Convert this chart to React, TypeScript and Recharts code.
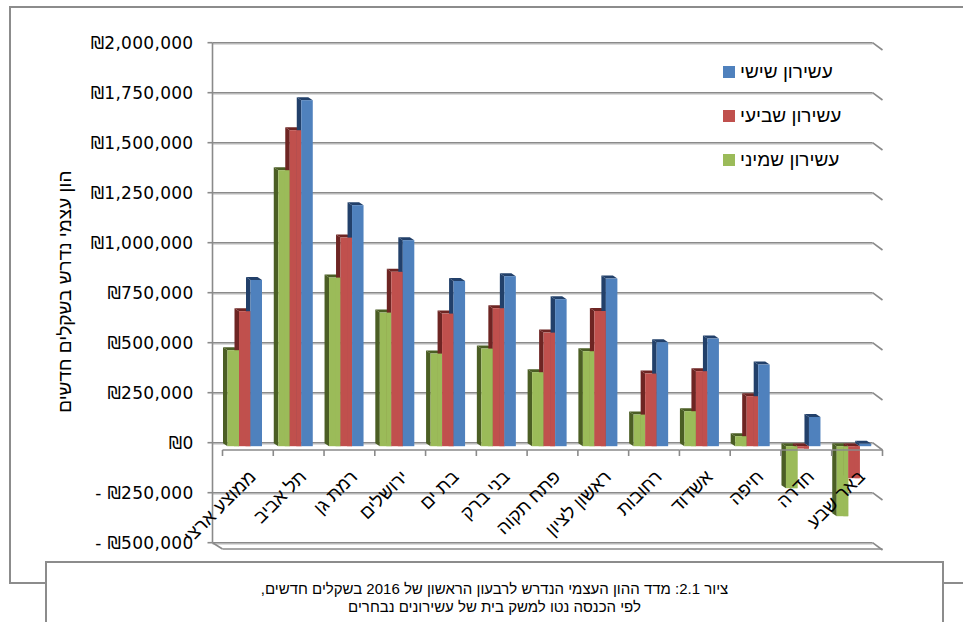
import React from 'react';
import { BarChart, Bar, XAxis, YAxis, CartesianGrid, Legend } from 'recharts';

// ---------- data ----------
const CATEGORIES = [
  'ממוצע ארצי',
  'תל אביב',
  'רמת גן',
  'ירושלים',
  'בת ים',
  'בני ברק',
  'פתח תקוה',
  'ראשון לציון',
  'רחובות',
  'אשדוד',
  'חיפה',
  'חדרה',
  'באר שבע',
];
const DECILE_8 = [480000, 1380000, 843000, 668000, 463000, 488000, 370000, 475000, 158000, 175000, 50000, -210000, -350000];
const DECILE_7 = [675000, 1580000, 1043000, 872000, 663000, 690000, 568000, 676000, 363000, 375000, 250000, -12000, -160000];
const DECILE_6 = [831000, 1730000, 1205000, 1030000, 826000, 850000, 735000, 838000, 520000, 538000, 408000, 146000, 12000];
const SERIES_NAMES = ['עשירון שמיני', 'עשירון שביעי', 'עשירון שישי'];
const LEGEND_ORDER = ['d6', 'd7', 'd8'];
const Y_TICKS = [-500000, -250000, 0, 250000, 500000, 750000, 1000000, 1250000, 1500000, 1750000, 2000000];
const Y_TITLE = 'הון עצמי נדרש בשקלים חדשים';
const CAPTION_LINE_1 = 'ציור 2.1: מדד ההון העצמי הנדרש לרבעון הראשון של 2016 בשקלים חדשים,';
const CAPTION_LINE_2 = 'לפי הכנסה נטו למשק בית של עשירונים נבחרים';

const data = CATEGORIES.map((c, i) => ({ city: c, d8: DECILE_8[i], d7: DECILE_7[i], d6: DECILE_6[i] }));

// ---------- style / layout ----------
const W = 963;
const H = 622;
const Y_MIN = -500000;
const Y_MAX = 2000000;
const PLOT_LEFT = 212.5;
const PLOT_TOP = 42.7;
const PLOT_W = 660;
const PLOT_H = 500;
const Y_AXIS_W = 200;
const X_AXIS_H = 30;
const DEPTH_X = 10;
const DEPTH_Y = 7.3;
const BAR_DX = 7;
const BAR_DY = 3.5;
const SIDE_X = 4.5;
const SIDE_Y = 3;
const ZERO_Y = PLOT_TOP + (PLOT_H * Y_MAX) / (Y_MAX - Y_MIN);
const GRID = '#8a8a8a';
const GRID_SHADOW = '#d0d0d0';
const HEB_FONT = '"Liberation Sans", Arial, sans-serif';
const NUM_FONT = '"DejaVu Sans", Verdana, sans-serif';

const GREEN = '#9BBB59';
const GREEN_DARK = '#4b5e24';
const RED = '#C0504D';
const RED_DARK = '#6e2523';
const BLUE = '#4F81BD';
const BLUE_DARK = '#22406a';

const fmt = (v: number) => {
  const s = Math.abs(v).toLocaleString('en-US');
  return v < 0 ? `- ₪${s}` : `₪${s}`;
};

function make3DShape(fill: string, dark: string, neighborKey: string | null, neighborFill: string | null) {
  return (props: any) => {
    const { x, y, width, height, payload, background } = props;
    if (x == null || y == null || width == null || height == null) return <g />;
    const top = Math.min(y, y + height);
    const h = Math.abs(height);
    const fx = x + BAR_DX;
    const fy = top + BAR_DY;
    const side = `${fx},${fy} ${fx - SIDE_X},${fy - SIDE_Y} ${fx - SIDE_X},${fy + h - SIDE_Y} ${fx},${fy + h}`;
    const cap = `${fx},${fy} ${fx + width},${fy} ${fx + width - SIDE_X},${fy - SIDE_Y} ${fx - SIDE_X},${fy - SIDE_Y}`;
    let strip: React.ReactNode = null;
    if (neighborKey && neighborFill && payload) {
      const bgY = background && background.y != null ? background.y : PLOT_TOP;
      const bgH = background && background.height ? background.height : PLOT_H;
      const yOf = (v: number) => bgY + ((Y_MAX - v) / (Y_MAX - Y_MIN)) * bgH;
      const a = yOf(payload[neighborKey]);
      const b = yOf(0);
      strip = (
        <rect x={fx - SIDE_X - 0.5} y={Math.min(a, b) + BAR_DY} width={SIDE_X + 0.5} height={Math.abs(a - b)} fill={neighborFill} />
      );
    }
    return (
      <g>
        <polygon points={side} fill={dark} />
        <polygon points={cap} fill={dark} />
        {strip}
        <rect x={fx} y={fy} width={width} height={h} fill={fill} />
      </g>
    );
  };
}

const GridLine = (p: any) => {
  const { x1, x2, y1 } = p;
  const isFloor = Math.abs(y1 - (PLOT_TOP + PLOT_H)) < 1;
  return (
    <g>
      <line x1={x1} x2={x2} y1={y1 + 1.4} y2={y1 + 1.4} stroke={GRID_SHADOW} strokeWidth={1.2} />
      <line x1={x1} x2={x2} y1={y1} y2={y1} stroke={GRID} strokeWidth={1.6} />
      <line x1={x2} y1={y1} x2={x2 + DEPTH_X} y2={y1 + DEPTH_Y} stroke={GRID} strokeWidth={1.6} />
      {isFloor && (
        <g>
          <line x1={x1} y1={y1} x2={x1 + DEPTH_X} y2={y1 + DEPTH_Y - 1} stroke={GRID} strokeWidth={1.6} />
          <line x1={x1 + DEPTH_X} x2={x2 + DEPTH_X} y1={y1 + DEPTH_Y - 1} y2={y1 + DEPTH_Y - 1} stroke={GRID} strokeWidth={1.6} />
        </g>
      )}
    </g>
  );
};

const CategoryTick = (p: any) => {
  const { x, payload, index } = p;
  const half = payload && payload.offset ? payload.offset : PLOT_W / CATEGORIES.length / 2;
  const cx = x + DEPTH_X;
  const y0 = ZERO_Y + DEPTH_Y;
  const ax = cx + 9;
  const ay = y0 + 28;
  return (
    <g>
      <line x1={cx - half} x2={cx + half} y1={y0} y2={y0} stroke={GRID} strokeWidth={1.6} />
      <line x1={cx - half} x2={cx - half} y1={y0} y2={y0 + 6} stroke={GRID} strokeWidth={1.6} />
      {index === CATEGORIES.length - 1 && (
        <line x1={cx + half} x2={cx + half} y1={y0} y2={y0 + 6} stroke={GRID} strokeWidth={1.6} />
      )}
      <text
        x={ax}
        y={ay}
        textAnchor="end"
        transform={`rotate(-45, ${ax}, ${ay})`}
        fontFamily={HEB_FONT}
        fontSize={18.5}
        fill="#000"
      >
        {payload.value}
      </text>
    </g>
  );
};

const AxisTitle = (p: any) => {
  const vb = p.viewBox || { x: 12.5, y: PLOT_TOP, width: Y_AXIS_W, height: PLOT_H };
  const tx = vb.x + 52;
  const ty = vb.y + vb.height / 2 - 1;
  return (
    <text
      x={tx}
      y={ty}
      textAnchor="middle"
      dominantBaseline="central"
      transform={`rotate(-90, ${tx}, ${ty})`}
      fontFamily={HEB_FONT}
      fontSize={19}
      fill="#000"
    >
      {Y_TITLE}
    </text>
  );
};

const LegendContent = (props: any) => {
  const payload = props.payload || [];
  const items = LEGEND_ORDER.map((k) => payload.find((it: any) => it.dataKey === k)).filter(Boolean);
  return (
    <div style={{ fontFamily: HEB_FONT, fontSize: 19, color: '#000' }}>
      {items.map((it: any, i: number) => (
        <div key={i} style={{ display: 'flex', alignItems: 'center', height: 44 }}>
          <span style={{ display: 'inline-block', width: 12, height: 12, background: it.color, marginRight: 5 }} />
          <span dir="rtl">{it.value}</span>
        </div>
      ))}
    </div>
  );
};

export default function App() {
  return (
    <div style={{ position: 'absolute', left: 0, top: 0, width: W, height: H, overflow: 'hidden', background: '#fff' }}>
      <div
        style={{
          position: 'absolute',
          left: 9,
          top: 6,
          width: 1000,
          height: 578,
          border: '2px solid #8c8c8c',
          boxSizing: 'border-box',
        }}
      />
      <div style={{ position: 'absolute', left: 0, top: 0 }}>
        <BarChart
          width={W}
          height={H}
          data={data}
          margin={{ top: PLOT_TOP, right: W - PLOT_LEFT - PLOT_W, bottom: H - PLOT_TOP - PLOT_H - X_AXIS_H, left: PLOT_LEFT - Y_AXIS_W }}
          barGap={0}
          barSize={11.5}
        >
          <CartesianGrid vertical={false} horizontal={(p: any) => <GridLine {...p} />} />
          <XAxis
            dataKey="city"
            height={X_AXIS_H}
            axisLine={false}
            tickLine={false}
            interval={0}
            tick={(p: any) => <CategoryTick {...p} />}
          />
          <YAxis
            type="number"
            width={Y_AXIS_W}
            domain={[Y_MIN, Y_MAX]}
            ticks={Y_TICKS}
            interval={0}
            allowDataOverflow
            tickFormatter={fmt}
            axisLine={{ stroke: GRID, strokeWidth: 1.6 }}
            tickLine={{ stroke: GRID, strokeWidth: 1.6 }}
            tickSize={5}
            tickMargin={14}
            tick={{ fontFamily: NUM_FONT, fontSize: 17, letterSpacing: 0.3, fill: '#000' }}
            label={{ content: (p: any) => <AxisTitle {...p} /> }}
          />
          <Legend
            layout="vertical"
            align="center"
            verticalAlign="middle"
            wrapperStyle={{ position: 'absolute', left: 723, top: 50, width: 190 }}
            content={(p: any) => <LegendContent {...p} />}
          />
          <Bar dataKey="d8" name={SERIES_NAMES[0]} fill={GREEN} isAnimationActive={false} shape={make3DShape(GREEN, GREEN_DARK, null, null)} />
          <Bar dataKey="d7" name={SERIES_NAMES[1]} fill={RED} isAnimationActive={false} shape={make3DShape(RED, RED_DARK, 'd8', GREEN)} />
          <Bar dataKey="d6" name={SERIES_NAMES[2]} fill={BLUE} isAnimationActive={false} shape={make3DShape(BLUE, BLUE_DARK, 'd7', RED)} />
        </BarChart>
      </div>
      <div
        dir="rtl"
        style={{
          position: 'absolute',
          left: 45,
          top: 561,
          width: 899,
          height: 80,
          border: '2px solid #8c8c8c',
          boxSizing: 'border-box',
          background: '#fff',
          fontFamily: HEB_FONT,
          fontSize: 15,
          lineHeight: '18px',
          color: '#000',
          textAlign: 'center',
          paddingTop: 17,
        }}
      >
        <div>{CAPTION_LINE_1}</div>
        <div>{CAPTION_LINE_2}</div>
      </div>
    </div>
  );
}
